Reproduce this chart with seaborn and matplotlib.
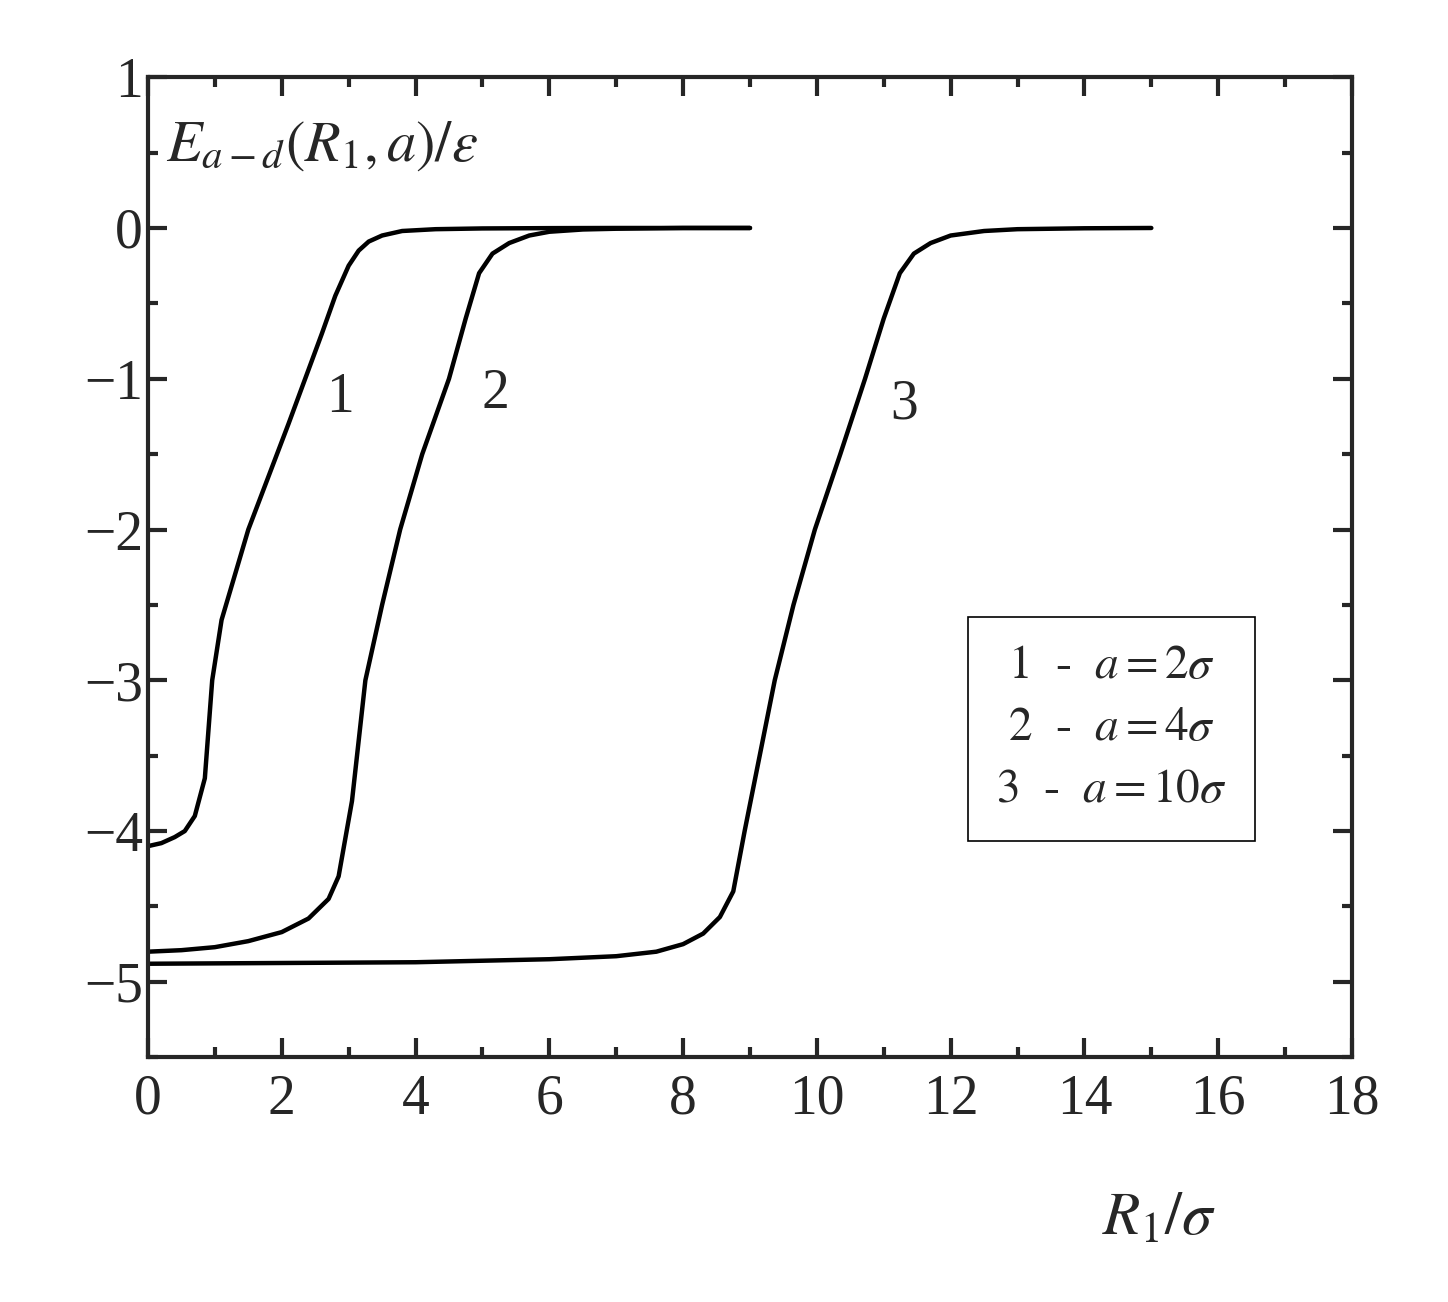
import matplotlib
matplotlib.use("Agg")
import matplotlib.pyplot as plt
import seaborn as sns
import pandas as pd
from matplotlib.ticker import MultipleLocator

r1 = [0, 0.2, 0.4, 0.55, 0.7, 0.85, 0.96, 1.1, 1.3, 1.5, 1.8, 2.1, 2.35, 2.6, 2.8, 3.0, 3.15, 3.3, 3.5, 3.8, 4.3, 5, 6, 7, 8, 9]
e1 = [-4.1, -4.08, -4.04, -4.0, -3.9, -3.65, -3.0, -2.6, -2.3, -2.0, -1.65, -1.3, -1.0, -0.7, -0.45, -0.25, -0.15, -0.09, -0.05, -0.02, -0.008, -0.003, -0.001, 0, 0, 0]

r2 = [0, 0.5, 1.0, 1.5, 2.0, 2.4, 2.7, 2.85, 2.95, 3.05, 3.25, 3.5, 3.77, 4.1, 4.5, 4.75, 4.95, 5.15, 5.4, 5.7, 6.0, 6.5, 7, 8, 9]
e2 = [-4.8, -4.79, -4.77, -4.73, -4.67, -4.58, -4.45, -4.3, -4.05, -3.8, -3.0, -2.5, -2.0, -1.5, -1.0, -0.6, -0.3, -0.17, -0.1, -0.05, -0.025, -0.01, -0.005, 0, 0]

r3 = [0, 2, 4, 6, 7, 7.6, 8.0, 8.3, 8.55, 8.75, 8.92, 9.1, 9.37, 9.65, 9.97, 10.35, 10.72, 11.0, 11.24, 11.45, 11.7, 12.0, 12.5, 13, 14, 15]
e3 = [-4.88, -4.875, -4.87, -4.85, -4.83, -4.8, -4.75, -4.68, -4.57, -4.4, -4.0, -3.6, -3.0, -2.5, -2.0, -1.5, -1.0, -0.6, -0.3, -0.17, -0.1, -0.05, -0.02, -0.008, -0.002, 0]

curve_labels = ["1", "2", "3"]
legend_lines = [r"$\mathit{1}$  -  $a=2\sigma$", r"$\mathit{2}$  -  $a=4\sigma$", r"$\mathit{3}$  -  $a=10\sigma$"]

df = pd.concat([
    pd.DataFrame({"r": r1, "e": e1, "c": "1"}),
    pd.DataFrame({"r": r2, "e": e2, "c": "2"}),
    pd.DataFrame({"r": r3, "e": e3, "c": "3"}),
])

sns.set_style("ticks")
plt.rcParams["font.family"] = ["Liberation Serif", "DejaVu Serif"]
plt.rcParams["mathtext.fontset"] = "stix"

fig = plt.figure(figsize=(14.48, 13.02), dpi=100)
ax = fig.add_axes([0.1022, 0.188, 0.8315, 0.7527])
sns.lineplot(data=df, x="r", y="e", hue="c", palette=["black"] * 3, lw=3.2,
             legend=False, ax=ax, sort=False, estimator=None)

ax.set_xlim(0, 18)
ax.set_ylim(-5.5, 1)
ax.xaxis.set_major_locator(MultipleLocator(2))
ax.xaxis.set_minor_locator(MultipleLocator(1))
ax.yaxis.set_major_locator(MultipleLocator(1))
ax.yaxis.set_minor_locator(MultipleLocator(0.5))
ax.tick_params(which="both", direction="in", top=True, right=True, width=3, labelsize=40)
ax.tick_params(which="major", length=14)
ax.tick_params(which="minor", length=7)
ax.tick_params(axis="x", pad=12)
for s in ax.spines.values():
    s.set_linewidth(3)
ax.set_xlabel("")
ax.set_ylabel("")

for lbl, (x, y) in zip(curve_labels, [(2.87, -1.13), (5.2, -1.1), (11.3, -1.17)]):
    ax.text(x, y, lbl, fontsize=40, ha="center", va="center")

ax.text(0.015, 0.93, r"$E_{a-d}(R_{1},a)/\varepsilon$", transform=ax.transAxes, fontsize=42, va="center")
fig.text(0.80, 0.063, r"$R_{1}/\sigma$", fontsize=44, ha="center", va="center")

leg = ax.text(0.8, 0.335, "\n".join(legend_lines), transform=ax.transAxes, fontsize=34,
              va="center", ha="center", linespacing=1.6,
              bbox=dict(boxstyle="square,pad=0.6", fc="white", ec="black", lw=1.2))

fig.savefig("out.png", dpi=100)
